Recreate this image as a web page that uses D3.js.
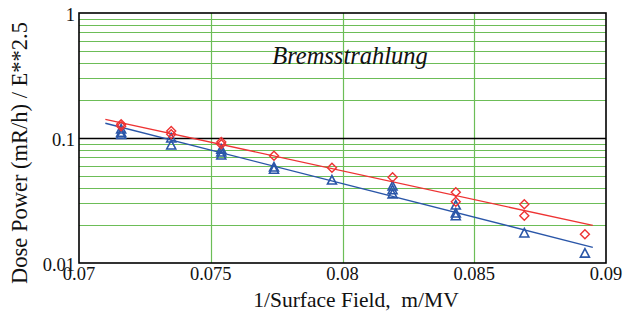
<!DOCTYPE html>
<html><head><meta charset="utf-8">
<script src="https://cdn.jsdelivr.net/npm/d3@7"></script>
<style>body{margin:0;background:#fff}svg{display:block}text{font-family:"Liberation Serif","Times New Roman",serif;fill:#111;white-space:pre}</style>
</head><body><svg id="c" width="628" height="324"></svg>
<script>
const xTicks = [0.07, 0.075, 0.08, 0.085, 0.09];
const yTicks = [0.01, 0.1, 1];
const xTickLabels = ["0.07", "0.075", "0.08", "0.085", "0.09"];
const yTickLabels = ["0.01", "0.1", "1"];
const redX = [0.0716,0.0716,0.0735,0.0735,0.0754,0.0754,0.0774,0.0796,0.0819,0.0843,0.0843,0.0869,0.0869,0.0892];
const redY = [0.129,0.124,0.114,0.107,0.093,0.089,0.0722,0.0579,0.0485,0.0368,0.0309,0.0295,0.0239,0.0170];
const blueX = [0.0716,0.0716,0.0716,0.0735,0.0735,0.0754,0.0754,0.0754,0.0774,0.0774,0.0796,0.0819,0.0819,0.0819,0.0843,0.0843,0.0843,0.0869,0.0892];
const blueY = [0.118,0.111,0.107,0.100,0.088,0.0815,0.0773,0.0731,0.0586,0.0563,0.0461,0.0413,0.0385,0.0357,0.0291,0.0251,0.0239,0.0174,0.0120];
const redFitX = [0.0710, 0.0895];
const redFitY = [0.1411, 0.0200];
const blueFitX = [0.0710, 0.0895];
const blueFitY = [0.1311, 0.01335];
const title = "Bremsstrahlung";
const xTitle = "1/Surface Field,  m/MV";
const yTitle = "Dose Power (mR/h) / E**2.5";

const svg = d3.select("#c");
const L=79, R=606, T=13, B=263;
const x = d3.scaleLinear().domain([0.07,0.09]).range([L,R]);
const y = d3.scaleLog().domain([0.01,1]).range([B,T]);
const green = "#6cbd57";
const FONT = "'Liberation Serif','Times New Roman',serif";

// horizontal minor grid
const minor = [];
[0.01,0.1].forEach(d=>{for(let k=2;k<=9;k++) minor.push(d*k);});
svg.append("g").selectAll("line").data(minor).join("line")
  .attr("x1",L).attr("x2",R).attr("y1",d=>Math.round(y(d))+0.5).attr("y2",d=>Math.round(y(d))+0.5)
  .attr("stroke",green).attr("stroke-width",1.2);
// vertical grid
svg.append("g").selectAll("line").data(xTicks.slice(1,-1)).join("line")
  .attr("y1",T).attr("y2",B).attr("x1",d=>Math.round(x(d))+0.5).attr("x2",d=>Math.round(x(d))+0.5)
  .attr("stroke",green).attr("stroke-width",1.2);
// decade line
svg.append("line").attr("x1",L).attr("x2",R).attr("y1",Math.round(y(0.1))+0.5).attr("y2",Math.round(y(0.1))+0.5)
  .attr("stroke","#000").attr("stroke-width",1.3);
// border
svg.append("rect").attr("x",L).attr("y",T).attr("width",R-L).attr("height",B-T)
  .attr("fill","none").attr("stroke","#000").attr("stroke-width",1.6);

// tick labels
svg.append("g").selectAll("text").data(yTicks).join("text")
  .attr("font-family",FONT)
  .attr("x",L-4).attr("y",d=>y(d)+8).attr("text-anchor","end")
  .attr("font-size",18.5).text((d,i)=>yTickLabels[i]);
svg.append("g").selectAll("text").data(xTicks).join("text")
  .attr("font-family",FONT)
  .attr("x",d=>x(d)).attr("y",B+17).attr("text-anchor","middle")
  .attr("font-size",18.5).text((d,i)=>xTickLabels[i]);

// titles
svg.append("text").attr("font-family",FONT).attr("xml:space","preserve").attr("x",356).attr("y",307).attr("text-anchor","middle").attr("font-size",21.5).text(xTitle);
svg.append("text").attr("font-family",FONT).attr("transform","translate(27,153) rotate(-90)").attr("text-anchor","middle").attr("font-size",22.5).text(yTitle);
svg.append("text").attr("font-family",FONT).attr("x",350).attr("y",64).attr("text-anchor","middle").attr("font-size",24.5).attr("font-style","italic").text(title);

// fit lines
const line = d3.line().x(d=>x(d[0])).y(d=>y(d[1]));
svg.append("path").attr("d",line(redFitX.map((v,i)=>[v,redFitY[i]]))).attr("stroke","#ee3333").attr("stroke-width",1.4).attr("fill","none");
svg.append("path").attr("d",line(blueFitX.map((v,i)=>[v,blueFitY[i]]))).attr("stroke","#2a56a8").attr("stroke-width",1.4).attr("fill","none");

// markers
const diamond = "M0,-4.5L4.5,0L0,4.5L-4.5,0Z";
const tri = "M0,-4.5L4.5,4L-4.5,4Z";
svg.append("g").selectAll("path").data(blueX.map((v,i)=>[v,blueY[i]])).join("path")
  .attr("d",tri).attr("transform",d=>`translate(${x(d[0])},${y(d[1])})`)
  .attr("fill","none").attr("stroke","#2a56a8").attr("stroke-width",1.6);
svg.append("g").selectAll("path").data(redX.map((v,i)=>[v,redY[i]])).join("path")
  .attr("d",diamond).attr("transform",d=>`translate(${x(d[0])},${y(d[1])})`)
  .attr("fill","none").attr("stroke","#ee3333").attr("stroke-width",1.4);
</script></body></html>
